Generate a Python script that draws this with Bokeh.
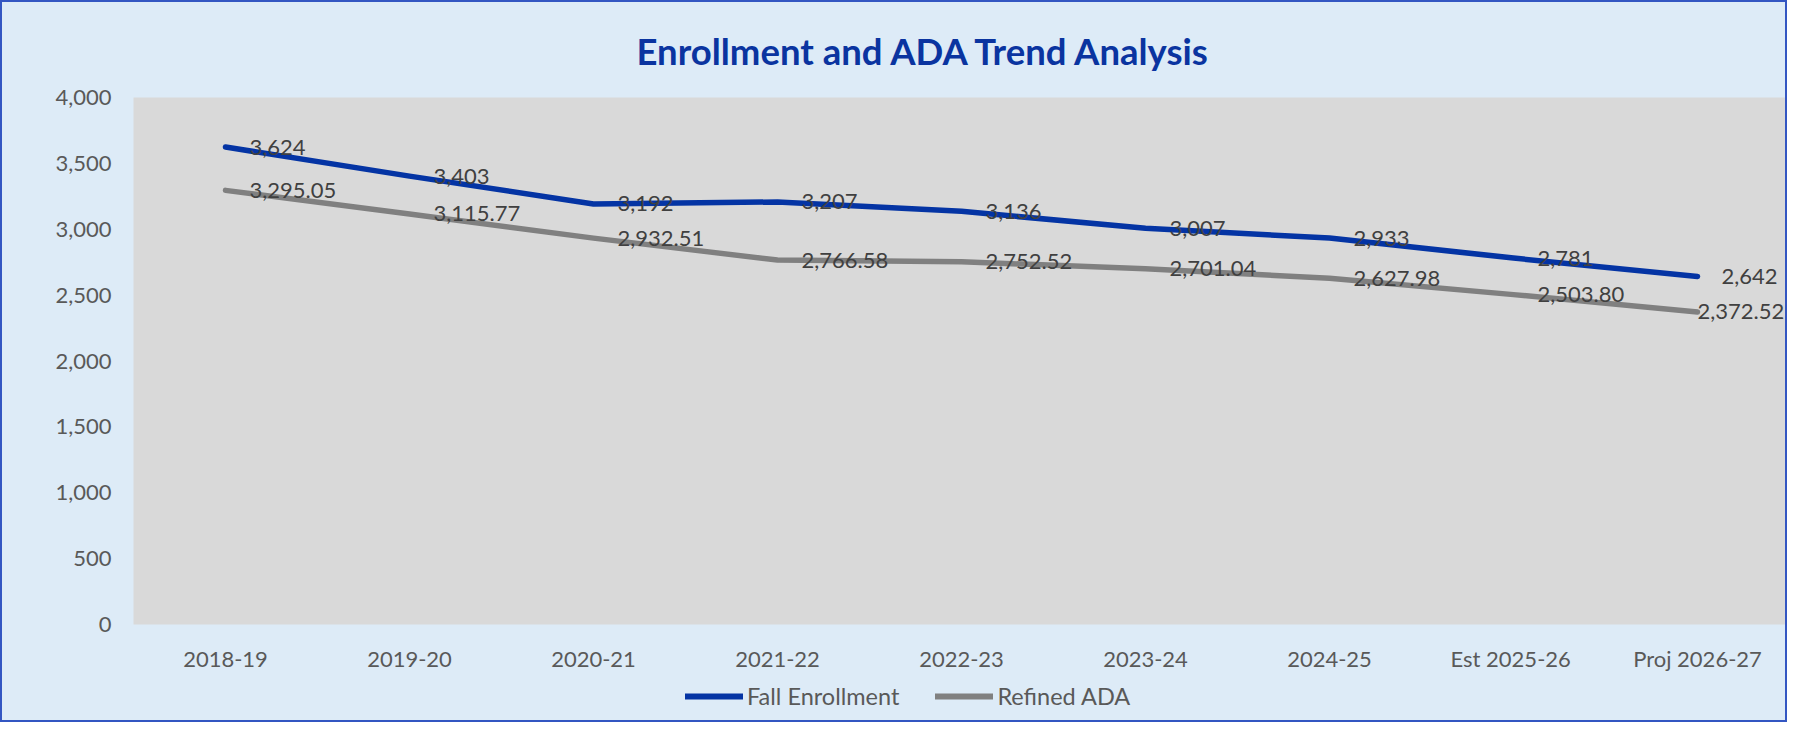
from bokeh.plotting import figure
from bokeh.layouts import column
from bokeh.models import (ColumnDataSource, LabelSet, Range1d, FactorRange, Legend, LegendItem,
                          SingleIntervalTicker, NumeralTickFormatter)
from bokeh.core.properties import value
from bokeh.embed import file_html
from bokeh.resources import INLINE

# ---- data ----
years = ["2018-19", "2019-20", "2020-21", "2021-22", "2022-23",
         "2023-24", "2024-25", "Est  2025-26", "Proj 2026-27"]
fall_enrollment = [3624, 3403, 3192, 3207, 3136, 3007, 2933, 2781, 2642]
refined_ada = [3295.05, 3115.77, 2932.51, 2766.58, 2752.52, 2701.04, 2627.98, 2503.80, 2372.52]
title_text = "Enrollment and ADA Trend Analysis"
series_names = ["Fall Enrollment", "Refined ADA"]

BLUE = "#0434A4"
GRAY = "#808080"
BG = "#DDEBF7"
EDGE = "2px solid #3356C2"
FONT = "Lato"

W, H1, H2 = 1787, 672, 50

p = figure(width=W, height=H1, output_backend="svg", toolbar_location=None,
           x_range=FactorRange(factors=years, range_padding=0),
           y_range=Range1d(0, 4000),
           min_border_left=131, min_border_right=0, min_border_top=95, min_border_bottom=49)
p.border_fill_color = BG
p.background_fill_color = "#D9D9D9"
p.outline_line_color = None
p.xgrid.visible = False
p.ygrid.visible = False
p.styles = {"border-left": EDGE, "border-right": EDGE, "border-top": EDGE,
            "box-sizing": "border-box"}

enr_src = ColumnDataSource(dict(x=years, y=fall_enrollment,
                                t=[f"{v:,}" for v in fall_enrollment]))
ada_src = ColumnDataSource(dict(x=years, y=refined_ada,
                                t=[f"{v:,.2f}" for v in refined_ada]))
# label sources: the last ADA label is nudged left so it stays inside the chart (as Excel does)
ada_lab_main = ColumnDataSource(dict(x=years[:-1], y=refined_ada[:-1],
                                     t=[f"{v:,.2f}" for v in refined_ada[:-1]]))
ada_lab_last = ColumnDataSource(dict(x=years[-1:], y=refined_ada[-1:],
                                     t=[f"{v:,.2f}" for v in refined_ada[-1:]]))

p.line("x", "y", source=enr_src, line_width=5.5, line_color=BLUE, line_cap="round",
       line_join="round")
p.line("x", "y", source=ada_src, line_width=5.5, line_color=GRAY, line_cap="round",
       line_join="round")

for src, dx in ((enr_src, 24), (ada_lab_main, 24), (ada_lab_last, 0)):
    p.add_layout(LabelSet(x="x", y="y", text="t", source=src, x_offset=dx,
                          text_baseline="middle", text_align="left",
                          text_font=value(FONT), text_font_size="22px", text_color="#404040"))

# title
p.title.text = title_text
p.title.align = "left"
p.title.offset = 503
p.title.standoff = 49
p.title.text_font = FONT
p.title.text_font_style = "bold"
p.title.text_font_size = "36.5px"
p.title.text_color = "#0A34A0"

# axes
for ax in (p.xaxis[0], p.yaxis[0]):
    ax.axis_line_color = None
    ax.major_tick_line_color = None
    ax.minor_tick_line_color = None
    ax.major_tick_out = 0
    ax.major_tick_in = 0
    ax.major_label_text_font = FONT
    ax.major_label_text_font_size = "22px"
    ax.major_label_text_color = "#595959"
p.yaxis[0].ticker = SingleIntervalTicker(interval=500)
p.yaxis[0].formatter = NumeralTickFormatter(format="0,0")
p.yaxis[0].major_label_standoff = 18
p.xaxis[0].major_label_standoff = 20

# ---- legend strip (a second figure directly below the chart; its frame aligns with the chart's) ----
q = figure(width=W, height=H2, output_backend="svg", toolbar_location=None,
           x_range=Range1d(0, 1), y_range=Range1d(0, 1),
           x_axis_type=None, y_axis_type=None,
           min_border_left=131, min_border_right=0, min_border_top=0, min_border_bottom=0)
q.border_fill_color = BG
q.background_fill_color = None
q.outline_line_color = None
q.styles = {"border-left": EDGE, "border-right": EDGE, "border-bottom": EDGE,
            "box-sizing": "border-box"}
# legend-only renderers, placed outside the visible range
l1 = q.line(x=[-5, -4], y=[-5, -5], line_width=6, line_color=BLUE, line_cap="round")
l2 = q.line(x=[-5, -4], y=[-5, -5], line_width=6, line_color=GRAY, line_cap="round")

lg = Legend(items=[LegendItem(label=series_names[0], renderers=[l1]),
                   LegendItem(label=series_names[1], renderers=[l2])],
            orientation="horizontal", location=(552, 12))
lg.padding = 0
lg.margin = 0
lg.border_line_color = None
lg.background_fill_alpha = 0
lg.glyph_width = 58
lg.label_standoff = 4
lg.spacing = 36
lg.label_text_font = FONT
lg.label_text_font_size = "23.5px"
lg.label_text_color = "#595959"
q.add_layout(lg, "center")

page = column(p, q, spacing=0, styles={"background-color": BG})
open("out.html", "w").write(file_html(page, INLINE))
